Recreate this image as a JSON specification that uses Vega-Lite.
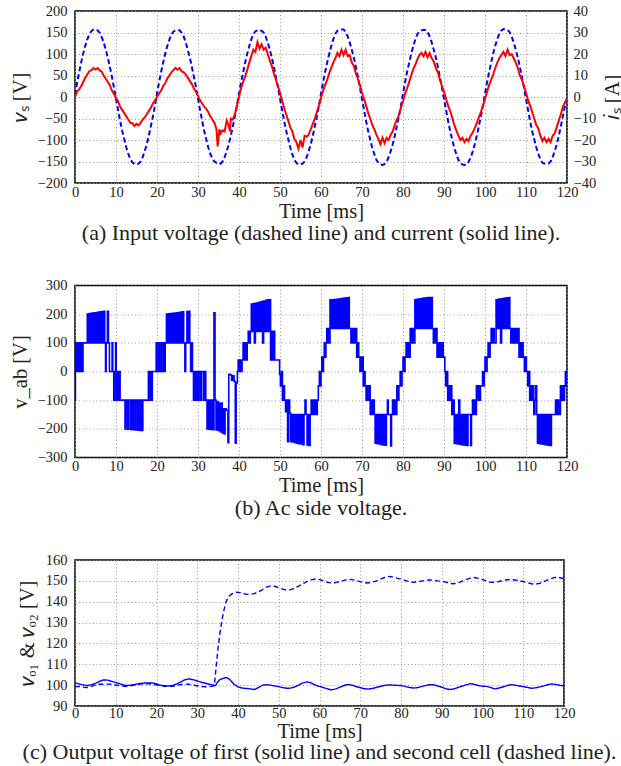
{
"$schema": "https://vega.github.io/schema/vega-lite/v6.json",
"background": "white",
"padding": {"left": 9, "top": 2, "right": 0, "bottom": 0},
"config": {
  "font": "Liberation Serif",
  "view": {"stroke": "black", "strokeWidth": 1.5},
  "axis": {"labelFont": "Liberation Serif", "labelFontSize": 14.5, "labelColor": "#222", "titleFont": "Liberation Serif", "titleFontSize": 20.5, "titleFontWeight": "normal", "titleColor": "#222", "grid": true, "gridColor": "#999", "gridDash": [1, 2.5], "gridWidth": 1, "domain": false, "ticks": false, "labelPadding": 8, "labelFlush": false, "labelOverlap": false, "titlePadding": 7},
  "axisX": {"labelPadding": 2, "titlePadding": 2.5},
  "title": {"font": "Liberation Serif", "fontSize": 22, "fontWeight": "normal", "color": "#222", "orient": "bottom", "anchor": "middle", "offset": 1.5}
},
"datasets": {
"vs": [{"t":0,"v":5},{"t":0.5,"v":33},{"t":1,"v":57},{"t":1.5,"v":80},{"t":2,"v":101},{"t":2.5,"v":119},{"t":3,"v":134},{"t":3.5,"v":146},{"t":4,"v":153},{"t":4.5,"v":157},{"t":5,"v":157},{"t":5.5,"v":155},{"t":6,"v":150},{"t":6.5,"v":140},{"t":7,"v":127},{"t":7.5,"v":110},{"t":8,"v":92},{"t":8.5,"v":70},{"t":9,"v":47},{"t":9.5,"v":22},{"t":10,"v":-4},{"t":10.5,"v":-30},{"t":11,"v":-55},{"t":11.5,"v":-78},{"t":12,"v":-98},{"t":12.5,"v":-117},{"t":13,"v":-132},{"t":13.5,"v":-145},{"t":14,"v":-152},{"t":14.5,"v":-156},{"t":15,"v":-157},{"t":15.5,"v":-155},{"t":16,"v":-150},{"t":16.5,"v":-140},{"t":17,"v":-126},{"t":17.5,"v":-110},{"t":18,"v":-90},{"t":18.5,"v":-68},{"t":19,"v":-45},{"t":19.5,"v":-20},
{"t":20,"v":8},{"t":20.5,"v":34},{"t":21,"v":58},{"t":21.5,"v":80},{"t":22,"v":100},{"t":22.5,"v":118},{"t":23,"v":133},{"t":23.5,"v":145},{"t":24,"v":152},{"t":24.5,"v":155},{"t":25,"v":155},{"t":25.5,"v":155},{"t":26,"v":150},{"t":26.5,"v":141},{"t":27,"v":127},{"t":27.5,"v":110},{"t":28,"v":92},{"t":28.5,"v":70},{"t":29,"v":47},{"t":29.5,"v":23},{"t":30,"v":-4},{"t":30.5,"v":-30},{"t":31,"v":-55},{"t":31.5,"v":-78},{"t":32,"v":-98},{"t":32.5,"v":-117},{"t":33,"v":-132},{"t":33.5,"v":-143},{"t":34,"v":-150},{"t":34.5,"v":-153},{"t":35,"v":-152},{"t":35.5,"v":-155},{"t":36,"v":-150},{"t":36.5,"v":-140},{"t":37,"v":-126},{"t":37.5,"v":-110},{"t":38,"v":-90},{"t":38.5,"v":-68},{"t":39,"v":-45},{"t":39.5,"v":-20},
{"t":40,"v":8},{"t":40.5,"v":34},{"t":41,"v":57},{"t":41.5,"v":80},{"t":42,"v":100},{"t":42.5,"v":118},{"t":43,"v":134},{"t":43.5,"v":146},{"t":44,"v":153},{"t":44.5,"v":155},{"t":45,"v":156},{"t":45.5,"v":154},{"t":46,"v":150},{"t":46.5,"v":141},{"t":47,"v":127},{"t":47.5,"v":110},{"t":48,"v":92},{"t":48.5,"v":70},{"t":49,"v":47},{"t":49.5,"v":23},{"t":50,"v":-4},{"t":50.5,"v":-30},{"t":51,"v":-55},{"t":51.5,"v":-78},{"t":52,"v":-98},{"t":52.5,"v":-117},{"t":53,"v":-133},{"t":53.5,"v":-146},{"t":54,"v":-153},{"t":54.5,"v":-157},{"t":55,"v":-157},{"t":55.5,"v":-155},{"t":56,"v":-150},{"t":56.5,"v":-140},{"t":57,"v":-126},{"t":57.5,"v":-110},{"t":58,"v":-90},{"t":58.5,"v":-68},{"t":59,"v":-45},{"t":59.5,"v":-20},
{"t":60,"v":8},{"t":60.5,"v":34},{"t":61,"v":58},{"t":61.5,"v":80},{"t":62,"v":100},{"t":62.5,"v":118},{"t":63,"v":134},{"t":63.5,"v":147},{"t":64,"v":154},{"t":64.5,"v":156},{"t":65,"v":157},{"t":65.5,"v":157},{"t":66,"v":151},{"t":66.5,"v":141},{"t":67,"v":127},{"t":67.5,"v":110},{"t":68,"v":92},{"t":68.5,"v":70},{"t":69,"v":47},{"t":69.5,"v":22},{"t":70,"v":-5},{"t":70.5,"v":-30},{"t":71,"v":-56},{"t":71.5,"v":-79},{"t":72,"v":-99},{"t":72.5,"v":-118},{"t":73,"v":-133},{"t":73.5,"v":-146},{"t":74,"v":-153},{"t":74.5,"v":-157},{"t":75,"v":-158},{"t":75.5,"v":-156},{"t":76,"v":-151},{"t":76.5,"v":-140},{"t":77,"v":-126},{"t":77.5,"v":-110},{"t":78,"v":-90},{"t":78.5,"v":-68},{"t":79,"v":-45},{"t":79.5,"v":-20},
{"t":80,"v":8},{"t":80.5,"v":34},{"t":81,"v":58},{"t":81.5,"v":80},{"t":82,"v":100},{"t":82.5,"v":118},{"t":83,"v":134},{"t":83.5,"v":146},{"t":84,"v":153},{"t":84.5,"v":155},{"t":85,"v":156},{"t":85.5,"v":156},{"t":86,"v":151},{"t":86.5,"v":141},{"t":87,"v":127},{"t":87.5,"v":110},{"t":88,"v":92},{"t":88.5,"v":70},{"t":89,"v":47},{"t":89.5,"v":22},{"t":90,"v":-5},{"t":90.5,"v":-30},{"t":91,"v":-56},{"t":91.5,"v":-79},{"t":92,"v":-99},{"t":92.5,"v":-118},{"t":93,"v":-133},{"t":93.5,"v":-146},{"t":94,"v":-154},{"t":94.5,"v":-157},{"t":95,"v":-158},{"t":95.5,"v":-157},{"t":96,"v":-151},{"t":96.5,"v":-141},{"t":97,"v":-127},{"t":97.5,"v":-110},{"t":98,"v":-90},{"t":98.5,"v":-68},{"t":99,"v":-45},{"t":99.5,"v":-20},
{"t":100,"v":8},{"t":100.5,"v":34},{"t":101,"v":58},{"t":101.5,"v":80},{"t":102,"v":101},{"t":102.5,"v":119},{"t":103,"v":135},{"t":103.5,"v":147},{"t":104,"v":155},{"t":104.5,"v":158},{"t":105,"v":157},{"t":105.5,"v":156},{"t":106,"v":151},{"t":106.5,"v":141},{"t":107,"v":127},{"t":107.5,"v":110},{"t":108,"v":92},{"t":108.5,"v":70},{"t":109,"v":47},{"t":109.5,"v":22},{"t":110,"v":-5},{"t":110.5,"v":-30},{"t":111,"v":-56},{"t":111.5,"v":-79},{"t":112,"v":-98},{"t":112.5,"v":-117},{"t":113,"v":-132},{"t":113.5,"v":-145},{"t":114,"v":-153},{"t":114.5,"v":-155},{"t":115,"v":-156},{"t":115.5,"v":-155},{"t":116,"v":-150},{"t":116.5,"v":-140},{"t":117,"v":-126},{"t":117.5,"v":-110},{"t":118,"v":-90},{"t":118.5,"v":-68},{"t":119,"v":-45},{"t":119.5,"v":-20},{"t":120,"v":-3}],
"is": [{"t":0,"v":0},{"t":0.5,"v":2.5},{"t":1,"v":3.5},{"t":1.5,"v":5},{"t":2,"v":7},{"t":2.5,"v":9},{"t":3,"v":10.5},{"t":3.5,"v":12},{"t":4,"v":12.5},{"t":4.5,"v":13.5},{"t":5,"v":12.8},{"t":5.5,"v":13.5},{"t":6,"v":12.5},{"t":6.5,"v":11.8},{"t":7,"v":10},{"t":7.5,"v":8.5},{"t":8,"v":7},{"t":8.5,"v":5.5},{"t":9,"v":3},{"t":9.5,"v":1.5},{"t":10,"v":-0.5},{"t":10.5,"v":-2},{"t":11,"v":-4.5},{"t":11.5,"v":-6},{"t":12,"v":-7.5},{"t":12.5,"v":-9},{"t":13,"v":-10.5},{"t":13.5,"v":-12},{"t":14,"v":-12.2},{"t":14.5,"v":-13.5},{"t":15,"v":-12.5},{"t":15.5,"v":-13.2},{"t":16,"v":-12},{"t":16.5,"v":-10.5},{"t":17,"v":-9.5},{"t":17.5,"v":-8},{"t":18,"v":-6.5},{"t":18.5,"v":-5},{"t":19,"v":-3},{"t":19.5,"v":-1.5},
{"t":20,"v":0},{"t":20.5,"v":1.5},{"t":21,"v":3},{"t":21.5,"v":5},{"t":22,"v":6.5},{"t":22.5,"v":8.5},{"t":23,"v":10},{"t":23.5,"v":11.5},{"t":24,"v":12.5},{"t":24.5,"v":13.5},{"t":25,"v":12.7},{"t":25.5,"v":13.5},{"t":26,"v":12},{"t":26.5,"v":11.5},{"t":27,"v":10.5},{"t":27.5,"v":9},{"t":28,"v":7.5},{"t":28.5,"v":6},{"t":29,"v":4},{"t":29.5,"v":2.5},{"t":30,"v":0.5},{"t":30.5,"v":-1.5},{"t":31,"v":-3},{"t":31.5,"v":-4.5},{"t":32,"v":-5.5},{"t":32.5,"v":-7},{"t":33,"v":-9},{"t":33.5,"v":-10.5},{"t":34,"v":-12},{"t":34.5,"v":-15},{"t":34.8,"v":-23},{"t":35.2,"v":-15},{"t":35.5,"v":-17},{"t":36,"v":-15.5},{"t":36.5,"v":-16},{"t":37,"v":-11},{"t":37.5,"v":-13.5},{"t":37.8,"v":-16},{"t":38,"v":-10},{"t":38.5,"v":-10.5},{"t":39,"v":-8},{"t":39.5,"v":-4},
{"t":40,"v":0},{"t":40.5,"v":4},{"t":41,"v":7},{"t":41.5,"v":9.5},{"t":42,"v":12.5},{"t":42.5,"v":16},{"t":43,"v":19},{"t":43.5,"v":22},{"t":44,"v":21},{"t":44.5,"v":25.5},{"t":45,"v":22.5},{"t":45.5,"v":24.5},{"t":46,"v":22},{"t":46.5,"v":23},{"t":47,"v":20},{"t":47.5,"v":17},{"t":48,"v":14.5},{"t":48.5,"v":11},{"t":49,"v":8},{"t":49.5,"v":5},{"t":50,"v":2},{"t":50.5,"v":-1.5},{"t":51,"v":-5},{"t":51.5,"v":-8},{"t":52,"v":-11},{"t":52.5,"v":-14},{"t":53,"v":-16},{"t":53.5,"v":-19.5},{"t":54,"v":-21},{"t":54.5,"v":-24},{"t":55,"v":-20},{"t":55.5,"v":-23.5},{"t":56,"v":-18},{"t":56.5,"v":-18.5},{"t":57,"v":-17.5},{"t":57.5,"v":-15},{"t":58,"v":-12.5},{"t":58.5,"v":-10},{"t":59,"v":-7},{"t":59.5,"v":-4},
{"t":60,"v":-0.5},{"t":60.5,"v":3},{"t":61,"v":5.5},{"t":61.5,"v":8},{"t":62,"v":11},{"t":62.5,"v":13.5},{"t":63,"v":16},{"t":63.5,"v":18},{"t":64,"v":20.5},{"t":64.5,"v":19},{"t":65,"v":22},{"t":65.5,"v":19.5},{"t":66,"v":22},{"t":66.5,"v":19},{"t":67,"v":19.5},{"t":67.5,"v":16},{"t":68,"v":14.5},{"t":68.5,"v":11},{"t":69,"v":8.5},{"t":69.5,"v":5.5},{"t":70,"v":2},{"t":70.5,"v":-1},{"t":71,"v":-4},{"t":71.5,"v":-7.5},{"t":72,"v":-10},{"t":72.5,"v":-13},{"t":73,"v":-15},{"t":73.5,"v":-17.5},{"t":74,"v":-19.5},{"t":74.5,"v":-22},{"t":75,"v":-19},{"t":75.5,"v":-21.5},{"t":76,"v":-19},{"t":76.5,"v":-20},{"t":77,"v":-17.5},{"t":77.5,"v":-16},{"t":78,"v":-13},{"t":78.5,"v":-10.5},{"t":79,"v":-8.5},{"t":79.5,"v":-5},
{"t":80,"v":-2},{"t":80.5,"v":1.5},{"t":81,"v":4},{"t":81.5,"v":7},{"t":82,"v":10},{"t":82.5,"v":13},{"t":83,"v":15},{"t":83.5,"v":17.5},{"t":84,"v":19.5},{"t":84.5,"v":20.5},{"t":85,"v":19},{"t":85.5,"v":21},{"t":86,"v":18.5},{"t":86.5,"v":20.5},{"t":87,"v":18},{"t":87.5,"v":16.5},{"t":88,"v":13.5},{"t":88.5,"v":11.5},{"t":89,"v":8},{"t":89.5,"v":5},{"t":90,"v":2.5},{"t":90.5,"v":-1},{"t":91,"v":-4},{"t":91.5,"v":-6.5},{"t":92,"v":-9.5},{"t":92.5,"v":-13},{"t":93,"v":-15.5},{"t":93.5,"v":-18},{"t":94,"v":-20},{"t":94.5,"v":-19},{"t":95,"v":-21},{"t":95.5,"v":-19.5},{"t":96,"v":-20.5},{"t":96.5,"v":-18},{"t":97,"v":-16.5},{"t":97.5,"v":-14.5},{"t":98,"v":-12},{"t":98.5,"v":-9.5},{"t":99,"v":-7},{"t":99.5,"v":-4},
{"t":100,"v":-1},{"t":100.5,"v":2.5},{"t":101,"v":5.5},{"t":101.5,"v":8},{"t":102,"v":10.5},{"t":102.5,"v":13.5},{"t":103,"v":16},{"t":103.5,"v":18},{"t":104,"v":19.5},{"t":104.5,"v":21},{"t":105,"v":19},{"t":105.5,"v":22},{"t":106,"v":19.5},{"t":106.5,"v":20},{"t":107,"v":18},{"t":107.5,"v":16},{"t":108,"v":13.5},{"t":108.5,"v":10},{"t":109,"v":8},{"t":109.5,"v":5},{"t":110,"v":2},{"t":110.5,"v":-1.5},{"t":111,"v":-4},{"t":111.5,"v":-7},{"t":112,"v":-10},{"t":112.5,"v":-13},{"t":113,"v":-14.5},{"t":113.5,"v":-18},{"t":114,"v":-20.5},{"t":114.5,"v":-19},{"t":115,"v":-21},{"t":115.5,"v":-19.5},{"t":116,"v":-21},{"t":116.5,"v":-18},{"t":117,"v":-17},{"t":117.5,"v":-14},{"t":118,"v":-11},{"t":118.5,"v":-8},{"t":119,"v":-4.5},{"t":119.5,"v":-2.5},{"t":120,"v":-1}],
"vab": [{"t":0,"v":-100},{"t":0.1,"v":100},{"t":0.3,"v":0},{"t":0.55,"v":100},{"t":0.8,"v":0},{"t":1.05,"v":100},{"t":1.3,"v":0},{"t":1.55,"v":100},{"t":1.8,"v":0},{"t":1.95,"v":100},
{"t":3.0,"v":200},{"t":3.2,"v":100},{"t":3.45,"v":202},{"t":3.65,"v":100},{"t":3.9,"v":203},{"t":4.1,"v":100},{"t":4.35,"v":204},{"t":4.55,"v":100},{"t":4.8,"v":205},{"t":5.0,"v":100},{"t":5.25,"v":206},{"t":5.45,"v":100},{"t":5.7,"v":207},{"t":5.9,"v":100},{"t":6.15,"v":208},{"t":6.35,"v":100},{"t":6.6,"v":209},{"t":6.8,"v":100},{"t":7.05,"v":210},{"t":7.25,"v":100},{"t":7.45,"v":0},{"t":7.6,"v":100},{"t":7.9,"v":210},{"t":8.15,"v":100},{"t":8.4,"v":0},{"t":9.05,"v":100},{"t":9.2,"v":0},{"t":9.45,"v":-100},{"t":9.65,"v":0},{"t":9.9,"v":100},{"t":10.05,"v":-100},{"t":10.3,"v":0},{"t":10.55,"v":-100},{"t":10.8,"v":0},{"t":11.0,"v":-100},
{"t":12.2,"v":-200},{"t":12.45,"v":-100},{"t":12.85,"v":-201},{"t":13.05,"v":-100},{"t":13.5,"v":-202},{"t":13.7,"v":-100},{"t":14.1,"v":-203},{"t":14.3,"v":-100},{"t":14.7,"v":-204},{"t":14.9,"v":-100},{"t":15.3,"v":-205},{"t":15.5,"v":-100},{"t":15.9,"v":-206},{"t":16.15,"v":-100},{"t":16.35,"v":-206},{"t":16.55,"v":-100},{"t":17.9,"v":0},{"t":18.1,"v":-100},{"t":18.4,"v":0},{"t":18.6,"v":-100},{"t":18.85,"v":0},
{"t":19.8,"v":100},{"t":20.0,"v":0},{"t":20.4,"v":100},{"t":20.6,"v":0},{"t":21.0,"v":100},{"t":21.2,"v":0},{"t":21.6,"v":100},{"t":21.8,"v":0},{"t":22.0,"v":100},{"t":22.3,"v":200},{"t":22.5,"v":100},{"t":22.8,"v":201},{"t":23.0,"v":100},{"t":23.3,"v":202},{"t":23.5,"v":100},{"t":23.8,"v":203},{"t":24.0,"v":100},{"t":24.3,"v":204},{"t":24.5,"v":100},{"t":24.8,"v":205},{"t":25.0,"v":100},{"t":25.3,"v":206},{"t":25.5,"v":100},{"t":25.8,"v":207},{"t":26.0,"v":100},{"t":26.3,"v":208},{"t":26.5,"v":100},{"t":26.8,"v":0},{"t":27.0,"v":100},{"t":27.3,"v":209},{"t":27.5,"v":100},{"t":27.8,"v":210},{"t":28.0,"v":100},{"t":28.2,"v":0},{"t":28.45,"v":100},{"t":28.65,"v":0},{"t":28.9,"v":-100},{"t":29.1,"v":0},{"t":29.5,"v":-100},{"t":29.7,"v":0},{"t":30.0,"v":-100},{"t":30.2,"v":0},{"t":30.6,"v":-100},{"t":30.8,"v":0},{"t":31.3,"v":-100},{"t":31.5,"v":0},{"t":31.9,"v":-100},{"t":32.2,"v":-200},{"t":32.4,"v":-100},{"t":32.7,"v":-201},{"t":32.9,"v":-100},{"t":33.2,"v":-202},{"t":33.4,"v":-100},{"t":33.7,"v":-203},{"t":33.9,"v":205},{"t":34.15,"v":-100},{"t":34.4,"v":-204},{"t":34.6,"v":-105},{"t":34.9,"v":-206},{"t":35.1,"v":-110},{"t":35.4,"v":-210},{"t":35.6,"v":-110},{"t":35.9,"v":-214},{"t":36.1,"v":-130},{"t":36.4,"v":-218},{"t":36.6,"v":-130},{"t":36.9,"v":-135},{"t":37.3,"v":-248},{"t":37.5,"v":-10},{"t":37.9,"v":-12},{"t":38.2,"v":-30},{"t":38.5,"v":-15},{"t":38.8,"v":-35},{"t":39.1,"v":-250},{"t":39.3,"v":-40},{"t":39.6,"v":0},{"t":39.8,"v":40},
{"t":40.0,"v":0},{"t":40.25,"v":40},{"t":40.5,"v":0},{"t":40.75,"v":40},{"t":41.0,"v":100},{"t":41.25,"v":40},{"t":41.5,"v":100},{"t":41.75,"v":40},{"t":42.0,"v":100},{"t":42.25,"v":140},{"t":42.5,"v":100},{"t":42.75,"v":140},{"t":43.0,"v":235},{"t":43.25,"v":140},{"t":43.5,"v":237},{"t":43.75,"v":100},{"t":44.0,"v":238},{"t":44.25,"v":140},{"t":44.5,"v":240},{"t":44.75,"v":140},{"t":45.0,"v":242},{"t":45.25,"v":140},{"t":45.5,"v":244},{"t":45.75,"v":100},{"t":46.0,"v":246},{"t":46.25,"v":140},{"t":46.5,"v":248},{"t":46.75,"v":140},{"t":47.0,"v":250},{"t":47.25,"v":140},{"t":47.5,"v":250},{"t":47.7,"v":40},{"t":47.9,"v":140},{"t":48.2,"v":40},{"t":48.4,"v":140},{"t":48.7,"v":40},{"t":49.9,"v":-10},{"t":50.1,"v":-50},{"t":50.35,"v":0},{"t":50.6,"v":-100},{"t":50.85,"v":-50},{"t":51.1,"v":-100},{"t":51.35,"v":-140},{"t":51.6,"v":-100},{"t":51.85,"v":-245},{"t":52.1,"v":-100},{"t":52.35,"v":-145},{"t":52.6,"v":-245},{"t":52.85,"v":-150},{"t":53.1,"v":-246},{"t":53.35,"v":-150},{"t":53.6,"v":-248},{"t":53.85,"v":-150},{"t":54.1,"v":-250},{"t":54.35,"v":-150},{"t":54.6,"v":-252},{"t":54.85,"v":-150},{"t":55.1,"v":-253},{"t":55.35,"v":-150},{"t":55.6,"v":-255},{"t":55.85,"v":-150},{"t":56.1,"v":-100},{"t":56.35,"v":-150},{"t":56.6,"v":-256},{"t":56.85,"v":-150},{"t":57.1,"v":-258},{"t":57.35,"v":-150},{"t":57.6,"v":-100},{"t":57.85,"v":-150},{"t":58.1,"v":-100},{"t":58.35,"v":-150},{"t":58.6,"v":-100},{"t":58.85,"v":-150},{"t":59.1,"v":-100},{"t":59.35,"v":-50},{"t":59.6,"v":0},{"t":59.85,"v":-50},
{"t":60.0,"v":0},{"t":60.2,"v":50},{"t":60.4,"v":0},{"t":60.6,"v":50},{"t":60.8,"v":100},{"t":61.0,"v":50},{"t":61.2,"v":100},{"t":61.4,"v":150},{"t":61.6,"v":100},{"t":61.8,"v":150},{"t":62.0,"v":100},{"t":62.2,"v":250},{"t":62.45,"v":150},{"t":62.7,"v":250},{"t":62.95,"v":150},{"t":63.2,"v":251},{"t":63.45,"v":150},{"t":63.7,"v":252},{"t":63.95,"v":150},{"t":64.2,"v":253},{"t":64.45,"v":150},{"t":64.7,"v":254},{"t":64.95,"v":150},{"t":65.2,"v":255},{"t":65.45,"v":150},{"t":65.7,"v":256},{"t":65.95,"v":150},{"t":66.2,"v":257},{"t":66.45,"v":150},{"t":66.7,"v":258},{"t":66.9,"v":150},{"t":67.3,"v":100},{"t":67.5,"v":150},{"t":67.75,"v":100},{"t":68.0,"v":150},{"t":68.25,"v":100},{"t":68.5,"v":150},{"t":68.7,"v":50},{"t":68.95,"v":100},{"t":69.2,"v":50},{"t":69.5,"v":0},{"t":69.7,"v":50},{"t":69.9,"v":0},{"t":70.1,"v":50},{"t":70.3,"v":-50},{"t":70.5,"v":0},{"t":70.75,"v":-50},{"t":71.0,"v":-100},{"t":71.25,"v":-50},{"t":71.5,"v":-100},{"t":71.75,"v":-50},{"t":72.0,"v":-150},{"t":72.25,"v":-100},{"t":72.5,"v":-150},{"t":72.75,"v":-100},{"t":73.0,"v":-150},{"t":73.2,"v":-250},{"t":73.45,"v":-150},{"t":73.7,"v":-252},{"t":73.95,"v":-150},{"t":74.2,"v":-253},{"t":74.45,"v":-150},{"t":74.7,"v":-255},{"t":74.95,"v":-150},{"t":75.2,"v":-256},{"t":75.45,"v":-150},{"t":75.7,"v":-257},{"t":75.95,"v":-150},{"t":76.2,"v":-100},{"t":76.4,"v":-150},{"t":77.0,"v":-260},{"t":77.2,"v":-150},{"t":77.45,"v":-100},{"t":77.7,"v":-150},{"t":77.95,"v":-100},{"t":78.2,"v":-150},{"t":78.5,"v":-50},{"t":78.75,"v":-100},{"t":79.0,"v":-50},{"t":79.3,"v":0},{"t":79.5,"v":-50},{"t":79.75,"v":0},
{"t":80.0,"v":50},{"t":80.25,"v":0},{"t":80.5,"v":50},{"t":80.75,"v":100},{"t":81.0,"v":50},{"t":81.25,"v":100},{"t":81.5,"v":50},{"t":81.75,"v":150},{"t":82.0,"v":100},{"t":82.25,"v":150},{"t":82.5,"v":100},{"t":82.9,"v":250},{"t":83.1,"v":150},{"t":83.35,"v":252},{"t":83.55,"v":150},{"t":83.8,"v":253},{"t":84.0,"v":150},{"t":84.25,"v":254},{"t":84.45,"v":150},{"t":84.7,"v":255},{"t":84.9,"v":150},{"t":85.15,"v":256},{"t":85.35,"v":150},{"t":85.6,"v":257},{"t":85.8,"v":150},{"t":86.05,"v":258},{"t":86.25,"v":150},{"t":86.5,"v":258},{"t":86.7,"v":150},{"t":86.95,"v":258},{"t":87.15,"v":150},{"t":87.4,"v":100},{"t":87.6,"v":150},{"t":87.85,"v":100},{"t":88.1,"v":150},{"t":88.3,"v":50},{"t":88.55,"v":100},{"t":88.8,"v":50},{"t":89.05,"v":100},{"t":89.3,"v":50},{"t":89.6,"v":100},{"t":89.8,"v":50},{"t":90.2,"v":0},{"t":90.4,"v":-50},{"t":90.65,"v":0},{"t":90.9,"v":-100},{"t":91.15,"v":-50},{"t":91.4,"v":-100},{"t":91.65,"v":-50},{"t":91.9,"v":-150},{"t":92.15,"v":-100},{"t":92.5,"v":-250},{"t":92.7,"v":-150},{"t":92.95,"v":-252},{"t":93.15,"v":-150},{"t":93.4,"v":-253},{"t":93.6,"v":-100},{"t":93.85,"v":-254},{"t":94.05,"v":-150},{"t":94.3,"v":-255},{"t":94.5,"v":-150},{"t":94.75,"v":-256},{"t":94.95,"v":-150},{"t":95.2,"v":-257},{"t":95.4,"v":-150},{"t":95.65,"v":-258},{"t":95.85,"v":-150},{"t":96.5,"v":-258},{"t":96.7,"v":-150},{"t":96.95,"v":-100},{"t":97.2,"v":-150},{"t":97.45,"v":-100},{"t":97.7,"v":-150},{"t":97.9,"v":-50},{"t":98.15,"v":-100},{"t":98.4,"v":-50},{"t":98.65,"v":-100},{"t":98.9,"v":-50},{"t":99.4,"v":0},{"t":99.6,"v":-50},{"t":99.8,"v":0},
{"t":100.0,"v":50},{"t":100.25,"v":0},{"t":100.5,"v":50},{"t":100.75,"v":100},{"t":101.0,"v":50},{"t":101.25,"v":100},{"t":101.5,"v":150},{"t":101.75,"v":100},{"t":102.0,"v":150},{"t":102.25,"v":100},{"t":102.7,"v":250},{"t":102.9,"v":150},{"t":103.15,"v":252},{"t":103.35,"v":150},{"t":103.6,"v":253},{"t":103.8,"v":100},{"t":104.05,"v":254},{"t":104.25,"v":150},{"t":104.5,"v":255},{"t":104.7,"v":150},{"t":104.95,"v":256},{"t":105.15,"v":150},{"t":105.4,"v":257},{"t":105.6,"v":150},{"t":105.85,"v":258},{"t":106.05,"v":150},{"t":106.3,"v":100},{"t":106.5,"v":150},{"t":106.8,"v":100},{"t":107.0,"v":150},{"t":107.3,"v":100},{"t":107.5,"v":150},{"t":107.8,"v":100},{"t":108.0,"v":150},{"t":108.3,"v":50},{"t":108.55,"v":100},{"t":108.8,"v":50},{"t":109.05,"v":100},{"t":109.3,"v":50},{"t":109.6,"v":0},{"t":109.85,"v":50},{"t":110.1,"v":0},{"t":110.4,"v":-50},{"t":110.65,"v":0},{"t":110.9,"v":-100},{"t":111.15,"v":-50},{"t":111.4,"v":-100},{"t":111.65,"v":-50},{"t":111.9,"v":-150},{"t":112.15,"v":-100},{"t":112.4,"v":-50},{"t":112.6,"v":-150},{"t":112.8,"v":-250},{"t":113.05,"v":-150},{"t":113.3,"v":-252},{"t":113.5,"v":-150},{"t":113.75,"v":-253},{"t":113.95,"v":-150},{"t":114.2,"v":-254},{"t":114.4,"v":-150},{"t":114.65,"v":-255},{"t":114.85,"v":-150},{"t":115.1,"v":-256},{"t":115.3,"v":-150},{"t":115.55,"v":-257},{"t":115.75,"v":-150},{"t":116.0,"v":-258},{"t":116.2,"v":-150},{"t":117.2,"v":-100},{"t":117.45,"v":-150},{"t":117.7,"v":-100},{"t":118.0,"v":-150},{"t":118.4,"v":-50},{"t":118.65,"v":-100},{"t":118.9,"v":-50},{"t":119.15,"v":-100},{"t":119.4,"v":-50},{"t":119.6,"v":0},{"t":119.8,"v":-50},{"t":120,"v":0}],
"vo": [{"s":"o1","t":0,"v":101.1},{"s":"o1","t":1,"v":100.6},{"s":"o1","t":2,"v":100.1},{"s":"o1","t":3,"v":99.8},{"s":"o1","t":4,"v":100.2},{"s":"o1","t":5,"v":100.8},{"s":"o1","t":6,"v":101.8},{"s":"o1","t":7,"v":102.5},{"s":"o1","t":8,"v":102.4},{"s":"o1","t":9,"v":101.8},{"s":"o1","t":10,"v":101.3},{"s":"o1","t":11,"v":100.7},{"s":"o1","t":12,"v":100.0},{"s":"o1","t":13,"v":99.8},{"s":"o1","t":14,"v":100.1},{"s":"o1","t":15,"v":100.5},{"s":"o1","t":16,"v":100.8},{"s":"o1","t":17,"v":101.0},{"s":"o1","t":18,"v":101.0},{"s":"o1","t":19,"v":101.0},{"s":"o1","t":20,"v":100.6},{"s":"o1","t":21,"v":99.9},{"s":"o1","t":22,"v":99.7},{"s":"o1","t":23,"v":99.6},{"s":"o1","t":24,"v":99.8},{"s":"o1","t":25,"v":100.6},{"s":"o1","t":26,"v":101.6},{"s":"o1","t":27,"v":102.6},{"s":"o1","t":28,"v":103.0},{"s":"o1","t":29,"v":102.6},{"s":"o1","t":30,"v":102.0},{"s":"o1","t":31,"v":101.4},{"s":"o1","t":32,"v":100.9},{"s":"o1","t":33,"v":100.4},{"s":"o1","t":34,"v":100.0},{"s":"o1","t":34.5,"v":99.8},{"s":"o1","t":35,"v":101.5},{"s":"o1","t":35.5,"v":102.6},{"s":"o1","t":36,"v":103.0},{"s":"o1","t":37,"v":103.6},{"s":"o1","t":37.5,"v":103.4},{"s":"o1","t":38,"v":102.6},{"s":"o1","t":39,"v":100.5},{"s":"o1","t":40,"v":99.2},{"s":"o1","t":41,"v":98.6},{"s":"o1","t":42,"v":98.4},{"s":"o1","t":43,"v":98.2},{"s":"o1","t":44,"v":97.9},{"s":"o1","t":45,"v":98.8},{"s":"o1","t":46,"v":100.0},{"s":"o1","t":47,"v":100.2},{"s":"o1","t":48,"v":100.0},{"s":"o1","t":49,"v":99.6},{"s":"o1","t":50,"v":99.3},{"s":"o1","t":51,"v":98.8},{"s":"o1","t":52,"v":98.5},{"s":"o1","t":53,"v":98.6},{"s":"o1","t":54,"v":99.2},{"s":"o1","t":55,"v":100.2},{"s":"o1","t":56,"v":101.1},{"s":"o1","t":57,"v":101.6},{"s":"o1","t":58,"v":101.0},{"s":"o1","t":59,"v":100.0},{"s":"o1","t":60,"v":99.4},{"s":"o1","t":61,"v":98.8},{"s":"o1","t":62,"v":98.2},{"s":"o1","t":63,"v":97.7},{"s":"o1","t":64,"v":98.2},{"s":"o1","t":65,"v":99.0},{"s":"o1","t":66,"v":99.8},{"s":"o1","t":67,"v":100.3},{"s":"o1","t":68,"v":100.0},{"s":"o1","t":69,"v":99.3},{"s":"o1","t":70,"v":98.8},{"s":"o1","t":71,"v":98.3},{"s":"o1","t":72,"v":98.1},{"s":"o1","t":73,"v":98.4},{"s":"o1","t":74,"v":98.9},{"s":"o1","t":75,"v":99.4},{"s":"o1","t":76,"v":99.9},{"s":"o1","t":77,"v":100.1},{"s":"o1","t":78,"v":100.0},{"s":"o1","t":79,"v":99.9},{"s":"o1","t":80,"v":99.8},{"s":"o1","t":81,"v":99.4},{"s":"o1","t":82,"v":98.9},{"s":"o1","t":83,"v":98.6},{"s":"o1","t":84,"v":98.8},{"s":"o1","t":85,"v":99.3},{"s":"o1","t":86,"v":99.8},{"s":"o1","t":87,"v":100.2},{"s":"o1","t":88,"v":100.2},{"s":"o1","t":89,"v":99.6},{"s":"o1","t":90,"v":99.0},{"s":"o1","t":91,"v":98.3},{"s":"o1","t":92,"v":97.9},{"s":"o1","t":93,"v":98.2},{"s":"o1","t":94,"v":98.9},{"s":"o1","t":95,"v":99.5},{"s":"o1","t":96,"v":100.2},{"s":"o1","t":97,"v":100.7},{"s":"o1","t":98,"v":100.4},{"s":"o1","t":99,"v":99.8},{"s":"o1","t":100,"v":99.5},{"s":"o1","t":101,"v":99.4},{"s":"o1","t":102,"v":98.9},{"s":"o1","t":103,"v":98.2},{"s":"o1","t":104,"v":98.6},{"s":"o1","t":105,"v":99.1},{"s":"o1","t":106,"v":99.8},{"s":"o1","t":107,"v":100.2},{"s":"o1","t":108,"v":100.0},{"s":"o1","t":109,"v":99.6},{"s":"o1","t":110,"v":99.3},{"s":"o1","t":111,"v":98.9},{"s":"o1","t":112,"v":98.5},{"s":"o1","t":113,"v":98.7},{"s":"o1","t":114,"v":99.1},{"s":"o1","t":115,"v":99.6},{"s":"o1","t":116,"v":100.2},{"s":"o1","t":117,"v":100.6},{"s":"o1","t":118,"v":100.3},{"s":"o1","t":119,"v":99.9},{"s":"o1","t":120,"v":99.6},
{"s":"o2","t":0,"v":99.2},{"s":"o2","t":1,"v":99.4},{"s":"o2","t":2,"v":99.0},{"s":"o2","t":3,"v":98.9},{"s":"o2","t":4,"v":99.4},{"s":"o2","t":5,"v":100.0},{"s":"o2","t":6,"v":100.5},{"s":"o2","t":7,"v":100.4},{"s":"o2","t":8,"v":100.5},{"s":"o2","t":9,"v":100.4},{"s":"o2","t":10,"v":100.1},{"s":"o2","t":11,"v":99.8},{"s":"o2","t":12,"v":99.5},{"s":"o2","t":13,"v":99.5},{"s":"o2","t":14,"v":99.8},{"s":"o2","t":15,"v":100.2},{"s":"o2","t":16,"v":100.5},{"s":"o2","t":17,"v":100.7},{"s":"o2","t":18,"v":100.6},{"s":"o2","t":19,"v":100.4},{"s":"o2","t":20,"v":100.2},{"s":"o2","t":21,"v":99.8},{"s":"o2","t":22,"v":99.5},{"s":"o2","t":23,"v":99.4},{"s":"o2","t":24,"v":99.5},{"s":"o2","t":25,"v":99.9},{"s":"o2","t":26,"v":100.3},{"s":"o2","t":27,"v":100.5},{"s":"o2","t":28,"v":100.4},{"s":"o2","t":29,"v":100.0},{"s":"o2","t":30,"v":99.7},{"s":"o2","t":31,"v":99.3},{"s":"o2","t":32,"v":99.2},{"s":"o2","t":33,"v":99.3},{"s":"o2","t":34,"v":99.5},{"s":"o2","t":34.2,"v":100.0},{"s":"o2","t":34.6,"v":108},{"s":"o2","t":35,"v":116},{"s":"o2","t":35.5,"v":124},{"s":"o2","t":36,"v":130.5},{"s":"o2","t":36.5,"v":135.5},{"s":"o2","t":37,"v":139.5},{"s":"o2","t":37.6,"v":142.3},{"s":"o2","t":38.4,"v":143.6},{"s":"o2","t":39,"v":144.2},{"s":"o2","t":39.7,"v":144.6},{"s":"o2","t":40.5,"v":144.3},{"s":"o2","t":41,"v":144.0},{"s":"o2","t":42,"v":143.6},{"s":"o2","t":43,"v":143.5},{"s":"o2","t":44,"v":143.9},{"s":"o2","t":45,"v":144.7},{"s":"o2","t":46,"v":145.8},{"s":"o2","t":47,"v":147.0},{"s":"o2","t":48,"v":147.6},{"s":"o2","t":49,"v":147.4},{"s":"o2","t":50,"v":146.7},{"s":"o2","t":51,"v":146.0},{"s":"o2","t":52,"v":145.5},{"s":"o2","t":53,"v":145.8},{"s":"o2","t":54,"v":146.6},{"s":"o2","t":55,"v":147.6},{"s":"o2","t":56,"v":148.8},{"s":"o2","t":57,"v":149.8},{"s":"o2","t":58,"v":150.5},{"s":"o2","t":59,"v":150.9},{"s":"o2","t":60,"v":150.6},{"s":"o2","t":61,"v":150.0},{"s":"o2","t":62,"v":149.3},{"s":"o2","t":63,"v":149.0},{"s":"o2","t":64,"v":149.2},{"s":"o2","t":65,"v":149.6},{"s":"o2","t":66,"v":150.2},{"s":"o2","t":67,"v":150.8},{"s":"o2","t":68,"v":150.6},{"s":"o2","t":69,"v":150.2},{"s":"o2","t":70,"v":149.6},{"s":"o2","t":71,"v":149.1},{"s":"o2","t":72,"v":149.0},{"s":"o2","t":73,"v":149.4},{"s":"o2","t":74,"v":150.0},{"s":"o2","t":75,"v":150.8},{"s":"o2","t":76,"v":151.6},{"s":"o2","t":77,"v":152.1},{"s":"o2","t":78,"v":151.9},{"s":"o2","t":79,"v":151.3},{"s":"o2","t":80,"v":150.8},{"s":"o2","t":81,"v":150.2},{"s":"o2","t":82,"v":149.6},{"s":"o2","t":83,"v":149.3},{"s":"o2","t":84,"v":149.5},{"s":"o2","t":85,"v":149.9},{"s":"o2","t":86,"v":150.2},{"s":"o2","t":87,"v":150.4},{"s":"o2","t":88,"v":150.3},{"s":"o2","t":89,"v":150.0},{"s":"o2","t":90,"v":149.8},{"s":"o2","t":91,"v":149.4},{"s":"o2","t":92,"v":148.8},{"s":"o2","t":93,"v":148.6},{"s":"o2","t":94,"v":149.1},{"s":"o2","t":95,"v":149.8},{"s":"o2","t":96,"v":150.6},{"s":"o2","t":97,"v":151.3},{"s":"o2","t":98,"v":151.6},{"s":"o2","t":99,"v":151.2},{"s":"o2","t":100,"v":150.6},{"s":"o2","t":101,"v":149.9},{"s":"o2","t":102,"v":149.3},{"s":"o2","t":103,"v":149.3},{"s":"o2","t":104,"v":149.7},{"s":"o2","t":105,"v":150.2},{"s":"o2","t":106,"v":150.5},{"s":"o2","t":107,"v":150.6},{"s":"o2","t":108,"v":150.4},{"s":"o2","t":109,"v":150.1},{"s":"o2","t":110,"v":149.7},{"s":"o2","t":111,"v":149.1},{"s":"o2","t":112,"v":148.6},{"s":"o2","t":113,"v":148.4},{"s":"o2","t":114,"v":148.8},{"s":"o2","t":115,"v":149.6},{"s":"o2","t":116,"v":150.5},{"s":"o2","t":117,"v":151.2},{"s":"o2","t":118,"v":151.7},{"s":"o2","t":119,"v":151.5},{"s":"o2","t":120,"v":151.0}]
},
"concat": [
{
  "width": 492, "height": 172,
  "title": {"text": "(a) Input voltage (dashed line) and current (solid line).", "offset": 1.5},
  "layer": [
    {"data": {"name": "vs"},
     "mark": {"type": "line", "color": "#0000ff", "strokeWidth": 2, "strokeDash": [5, 3], "clip": true},
     "encoding": {
       "x": {"field": "t", "type": "quantitative", "scale": {"domain": [0, 120], "nice": false}, "axis": {"title": "Time [ms]", "values": [0,10,20,30,40,50,60,70,80,90,100,110,120]}},
       "y": {"field": "v", "type": "quantitative", "scale": {"domain": [-200, 200], "nice": false, "zero": false}, "axis": {"title": "𝑣ₛ [V]", "values": [-200,-150,-100,-50,0,50,100,150,200]}}
     }},
    {"data": {"name": "is"},
     "mark": {"type": "line", "color": "#ff0000", "strokeWidth": 2, "clip": true},
     "encoding": {
       "x": {"field": "t", "type": "quantitative"},
       "y": {"field": "v", "type": "quantitative", "scale": {"domain": [-40, 40], "nice": false, "zero": false}, "axis": {"orient": "right", "title": "𝑖ₛ [A]", "titleAngle": 270, "titleBaseline": "middle", "titleAlign": "center", "titleX": 45, "titleY": 86, "labelPadding": 6, "grid": false, "values": [-40,-30,-20,-10,0,10,20,30,40]}}
     }}
  ],
  "resolve": {"scale": {"y": "independent"}}
},
{
  "width": 492, "height": 172,
  "title": {"text": "(b) Ac side voltage.", "offset": 1.5},
  "data": {"name": "vab"},
  "mark": {"type": "line", "interpolate": "step-after", "color": "#0000ff", "strokeWidth": 1.6, "clip": true},
  "encoding": {
    "x": {"field": "t", "type": "quantitative", "scale": {"domain": [0, 120], "nice": false}, "axis": {"title": "Time [ms]", "values": [0,10,20,30,40,50,60,70,80,90,100,110,120]}},
    "y": {"field": "v", "type": "quantitative", "scale": {"domain": [-300, 300], "nice": false, "zero": false}, "axis": {"title": "v_ab [V]", "values": [-300,-200,-100,0,100,200,300]}}
  }
},
{
  "width": 489, "height": 146,
  "title": {"text": "(c) Output voltage of first (solid line) and second cell (dashed line).", "offset": 0},
  "data": {"name": "vo"},
  "mark": {"type": "line", "color": "#0000ff", "strokeWidth": 1.4, "clip": true},
  "encoding": {
    "x": {"field": "t", "type": "quantitative", "scale": {"domain": [0, 120], "nice": false}, "axis": {"title": "Time [ms]", "labelPadding": 0, "titlePadding": 1.5, "values": [0,10,20,30,40,50,60,70,80,90,100,110,120]}},
    "y": {"field": "v", "type": "quantitative", "scale": {"domain": [90, 160], "nice": false, "zero": false}, "axis": {"title": "𝑣ₒ₁ & 𝑣ₒ₂ [V]", "titlePadding": 8, "labelOverlap": false, "tickCount": 8, "values": [90,100,110,120,130,140,150,160]}},
    "strokeDash": {"field": "s", "type": "nominal", "scale": {"domain": ["o1", "o2"], "range": [[1, 0], [5, 3]]}, "legend": null}
  }
}
],
"columns": 1,
"align": "none",
"spacing": 31.5
}
